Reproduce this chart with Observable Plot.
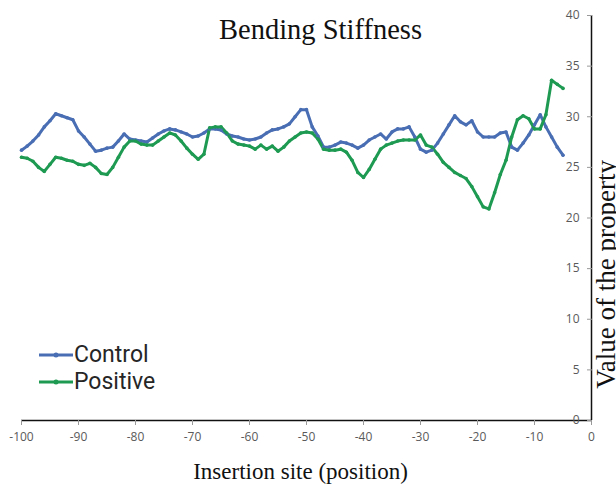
<!DOCTYPE html>
<html>
<head>
<meta charset="utf-8">
<script src="https://cdn.jsdelivr.net/npm/d3@7"></script>
<script src="https://cdn.jsdelivr.net/npm/@observablehq/plot@0.6"></script>
<style>
  body { margin: 0; background: #fff; }
  #chart { position: relative; width: 616px; height: 492px; }
  .legend { position: absolute; left: 38px; display: flex; align-items: center; line-height: 1;
            font-family: Roboto, sans-serif; font-size: 23px; color: #262626; }
  .legend svg { margin-right: 0px; }
</style>
</head>
<body>
<div id="chart"></div>
<script>
// Insertion site positions, -100 .. -5
const positions = d3.range(-100, -4);

const control = [
  26.7, 27.1, 27.6, 28.2, 29.0, 29.6, 30.3, 30.1, 29.9, 29.7,
  28.6, 28.0, 27.3, 26.6, 26.7, 26.9, 27.0, 27.6, 28.3, 27.8,
  27.7, 27.6, 27.5, 27.9, 28.3, 28.6, 28.8, 28.7, 28.5, 28.3,
  28.0, 28.1, 28.4, 28.8, 28.8, 28.7, 28.3, 28.1, 28.0, 27.8,
  27.7, 27.8, 28.0, 28.4, 28.7, 28.8, 29.0, 29.3, 30.0, 30.7,
  30.7, 29.0, 28.1, 27.0, 27.0, 27.2, 27.5, 27.4, 27.2, 26.9,
  27.2, 27.7, 28.0, 28.3, 27.8, 28.5, 28.8, 28.8, 29.0, 28.0,
  26.8, 26.5, 26.7, 27.4, 28.3, 29.2, 30.1, 29.5, 29.2, 29.6,
  28.5, 28.0, 28.0, 28.0, 28.4, 28.5, 27.0, 26.7, 27.4, 28.2,
  29.2, 30.2, 29.0, 28.0, 27.0, 26.2
];

const positive = [
  26.0, 25.9, 25.6, 25.0, 24.6, 25.3, 26.0, 25.9, 25.7, 25.6,
  25.3, 25.2, 25.4, 25.0, 24.4, 24.3, 25.0, 26.0, 27.0, 27.6,
  27.6, 27.3, 27.2, 27.2, 27.6, 28.0, 28.4, 28.2, 27.6, 26.9,
  26.3, 25.8, 26.3, 28.9, 29.0, 29.0, 28.4, 27.6, 27.3, 27.2,
  27.1, 26.8, 27.2, 26.8, 27.1, 26.6, 27.0, 27.6, 28.0, 28.4,
  28.5, 28.4, 27.8, 26.8, 26.7, 26.7, 26.8, 26.5, 25.7, 24.5,
  24.0, 24.8, 25.8, 26.8, 27.2, 27.4, 27.6, 27.7, 27.7, 27.7,
  28.2, 27.2, 27.0, 26.3, 25.5, 25.0, 24.5, 24.2, 23.9, 23.1,
  22.1, 21.1, 20.9, 22.5, 24.3, 25.7, 28.0, 29.7, 30.1, 29.8,
  28.8, 28.8, 30.2, 33.6, 33.2, 32.8
];

const seriesNames = ["Control", "Positive"];
const seriesColors = ["#4a6eb3", "#1e9a52"];
const xTicks = d3.range(-100, 1, 10);
const yTicks = d3.range(0, 41, 5);

const rows = positions.flatMap((p, i) => [
  {pos: p, value: control[i], series: "Control"},
  {pos: p, value: positive[i], series: "Positive"}
]);

const tickFont = {fontFamily: "'Open Sans', sans-serif", fontSize: 12};

const chart = Plot.plot({
  width: 616,
  height: 492,
  marginLeft: 21,
  marginRight: 25,
  marginTop: 15,
  marginBottom: 72,
  style: {background: "#fff", overflow: "visible"},
  x: {domain: [-100, 0]},
  y: {domain: [0, 40]},
  color: {domain: seriesNames, range: seriesColors},
  marks: [
    // axis lines: x axis at value 0, y axis on the right at position 0
    Plot.ruleY([0], {stroke: "#111", strokeWidth: 1.5}),
    Plot.ruleX([0], {stroke: "#111", strokeWidth: 1.5}),
    Plot.axisX({ticks: xTicks, tickSize: 5, tickPadding: 7, tickFormat: d => String(d),
                stroke: "#999", fill: "#5a5a5a", label: null, ...tickFont}),
    Plot.axisY({anchor: "right", ticks: yTicks, tickSize: 5, dx: -5,
                stroke: "#999", fill: "none", label: null}),
    Plot.axisY({anchor: "right", ticks: yTicks, tickSize: 0, tickPadding: -12,
                textAnchor: "end", fill: "#5a5a5a", label: null, ...tickFont}),
    Plot.line(rows, {x: "pos", y: "value", stroke: "series", z: "series", strokeWidth: 3}),
    Plot.dot(rows, {x: "pos", y: "value", fill: "series", r: 1.8}),
    // titles
    Plot.text(["Bending Stiffness"], {frameAnchor: "top", dx: 14, dy: 3,
      fontFamily: "'Liberation Serif', serif", fontSize: 28.5, fill: "#111"}),
    Plot.text(["Insertion site (position)"], {frameAnchor: "bottom", dx: -6, dy: 58,
      fontFamily: "'Liberation Serif', serif", fontSize: 23, fill: "#111"}),
    Plot.text(["Value of the property"], {frameAnchor: "right", dx: 15, dy: -58, rotate: -90,
      fontFamily: "'Liberation Serif', serif", fontSize: 27, fill: "#111"})
  ]
});

const container = document.getElementById("chart");
container.appendChild(chart);

// legend in the lower-left corner of the plot
seriesNames.forEach((name, i) => {
  const item = document.createElement("div");
  item.className = "legend";
  item.style.top = (i === 0 ? 343 : 370) + "px";
  item.innerHTML =
    `<svg width="36" height="10"><line x1="1" x2="35" y1="5" y2="5" stroke="${seriesColors[i]}" stroke-width="3"/>` +
    `<circle cx="18" cy="5" r="2.5" fill="${seriesColors[i]}"/></svg><span>${name}</span>`;
  container.appendChild(item);
});
</script>
</body>
</html>
